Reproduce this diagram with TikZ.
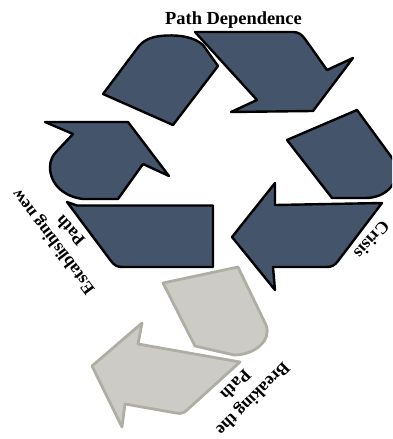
\documentclass[tikz,border=0pt]{standalone}
\usepackage{fontspec}
\setmainfont{Liberation Serif}
\definecolor{slateblue}{HTML}{44546A}
\definecolor{greyfill}{HTML}{CCCBC5}
\definecolor{greyline}{HTML}{AEAEA4}
\tikzset{
  bluepart/.style={fill=slateblue,draw=black,line width=2.4pt,line join=round},
  greypart/.style={fill=greyfill,draw=greyline,line width=2.8pt,line join=round},
  lab/.style={font=\bfseries\fontsize{17.5}{18}\selectfont,align=center,inner sep=0pt,text=black}
}
\begin{document}
\begin{tikzpicture}[x=1bp,y=-1bp]
\useasboundingbox (0,0) rectangle (392,439);
\clip (0,0) rectangle (392,439);
% top-left dome
\draw[bluepart] (103,94) -- (173,125) -- (218,66) -- (203,45) .. controls (194,37) and (180,35) .. (167,35.5) .. controls (155,36) and (146,38) .. (139,46) -- cycle;
% top-right arrow
\draw[bluepart] (195,32) -- (293,32) .. controls (299,32) and (302,35) .. (305,39) -- (327,70) -- (353,58) -- (313,111) -- (231,112) -- (257,100) -- cycle;
% right dome
\draw[bluepart] (287,140) -- (357,110) -- (398,166) .. controls (398,185) and (385,198) .. (365,198) -- (332,198) -- cycle;
% bottom-right arrow
\draw[bluepart] (232,237) -- (275,183) -- (275,205) -- (382,203) -- (338,261) .. controls (335,265) and (332,267) .. (327,267) -- (273,267) -- (275,290) -- cycle;
% left arrow
\draw[bluepart] (45,122) -- (128,122) -- (169,176) -- (143,164) -- (118,199) -- (83,199) .. controls (65,197) and (50,185) .. (50,167) .. controls (50,160) and (53,155) .. (57,151) -- (73,134) -- cycle;
% bottom-left trapezoid
\draw[bluepart] (67,202) -- (77,205.5) -- (213,205.5) -- (213,267) -- (122,267) .. controls (117,267) and (114,265) .. (111,261) -- cycle;
% grey dome
\draw[greypart] (163,283) -- (238,267) -- (266,325) .. controls (272,340) and (255,355) .. (234,355) -- (195,346) -- cycle;
% grey arrow
\draw[greypart] (92,366) -- (142,323) -- (138,344) -- (240,362) -- (187,410) .. controls (184,413) and (181,414) .. (176,413) -- (125,404) -- (122,427) -- cycle;
% labels
\node[lab,font=\bfseries\fontsize{18.5}{19}\selectfont] (top) at (233.5,20) {Path Dependence};
\node[lab,rotate=127] (est) at (54,241) {Establishing new};
\node[lab,rotate=132] (estp) at (70,231) {Path};
\node[lab,rotate=228] (cri) at (372,240) {Crisis};
\node[lab,rotate=225] (brk) at (252,398) {Breaking the};
\node[lab,rotate=225] (brkp) at (236,385) {Path};
\end{tikzpicture}
\end{document}
